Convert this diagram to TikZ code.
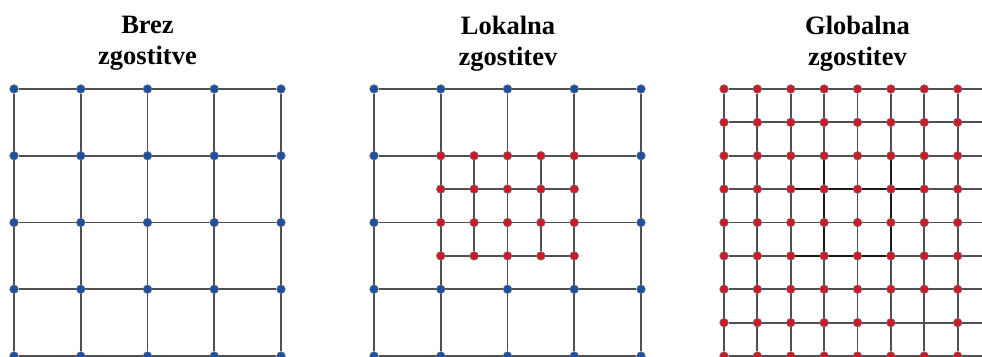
\documentclass[tikz,border=0pt]{standalone}
\usepackage{fontspec}
\setmainfont{Liberation Serif}
\usetikzlibrary{backgrounds}
\definecolor{nodeblue}{RGB}{28,80,165}
\definecolor{nodered}{RGB}{205,25,40}
\definecolor{edgegray}{RGB}{80,80,80}
\begin{document}
\begin{tikzpicture}[x=1pt,y=-1pt,
  edge/.style={draw=edgegray, line width=1.8pt},
  darkedge/.style={draw=black!90, line width=1.7pt},
  bpt/.style={circle, fill=nodeblue, draw=black!55, line width=0.6pt, inner sep=0pt, minimum size=8.6pt},
  rpt/.style={circle, fill=nodered, draw=black!55, line width=0.6pt, inner sep=0pt, minimum size=8.6pt},
  title/.style={font=\bfseries\fontsize{26.5}{31}\selectfont, align=center, anchor=north, inner sep=0pt}]
\useasboundingbox (0,0) rectangle (982,356);
\clip (0,0) rectangle (982,356);

% titles
\node[title] (t1) at (147.5,15.5) {Brez\\zgostitve};
\node[title] (t2) at (508,15.5) {Lokalna\\zgostitev};
\node[title] (t3) at (857.5,15.5) {Globalna\\zgostitev};

% ---------- left grid ----------
\foreach \i in {0,...,4}
  \foreach \j in {0,...,4}
    \node[bpt] (A-\i-\j) at ({14+66.75*\i},{89+66.75*\j}) {};

% ---------- middle grid ----------
\foreach \i in {0,...,4}
  \foreach \j in {0,...,4}{
    \pgfmathtruncatemacro\isin{(\i>0)&&(\i<4)&&(\j>0)&&(\j<3)}
    \ifnum\isin=1
      \node[rpt] (B-\i-\j) at ({374+66.75*\i},{89+66.75*\j}) {};
    \else
      \node[bpt] (B-\i-\j) at ({374+66.75*\i},{89+66.75*\j}) {};
    \fi
  }
\foreach \b in {1,3}
  \foreach \a in {0,...,4}
    \node[rpt] (F-\a-\b) at ({440.75+33.375*\a},{155.75+33.375*\b}) {};
\foreach \b in {0,2}
  \foreach \a in {1,3}
    \node[rpt] (F-\a-\b) at ({440.75+33.375*\a},{155.75+33.375*\b}) {};

% ---------- right grid ----------
\foreach \i in {0,...,8}
  \foreach \j in {0,...,8}{
    \pgfmathtruncatemacro\miss{(\i==6)&&(\j==7)}
    \ifnum\miss=1
      \coordinate (C-\i-\j) at ({724+33.375*\i},{89+33.375*\j});
    \else
      \node[rpt] (C-\i-\j) at ({724+33.375*\i},{89+33.375*\j}) {};
    \fi
  }

% ---------- edges ----------
\begin{scope}[on background layer]
  \clip (0,0) rectangle (982,356);
  \foreach \k in {0,...,4}{
    \draw[edge] (A-\k-0) -- (A-\k-4);
    \draw[edge] (A-0-\k) -- (A-4-\k);
    \draw[edge] (B-\k-0) -- (B-\k-4);
    \draw[edge] (B-0-\k) -- (B-4-\k);
  }
  \foreach \b in {1,3} \draw[edge] (F-0-\b) -- (F-4-\b);
  \foreach \a in {1,3} \draw[edge] (F-\a-0) -- (F-\a-3);
  \foreach \k in {0,...,8}{
    \draw[edge] (C-\k-0) -- (C-\k-8);
    \draw[edge] (C-0-\k) -- (C-8-\k);
  }
  \draw[darkedge] (C-3-2) -- (C-3-5);
  \draw[darkedge] (C-5-2) -- (C-5-5);
  \draw[darkedge] (C-2-3) -- (C-6-3);
  \draw[darkedge] (C-2-5) -- (C-5-5);
\end{scope}
\end{tikzpicture}
\end{document}
